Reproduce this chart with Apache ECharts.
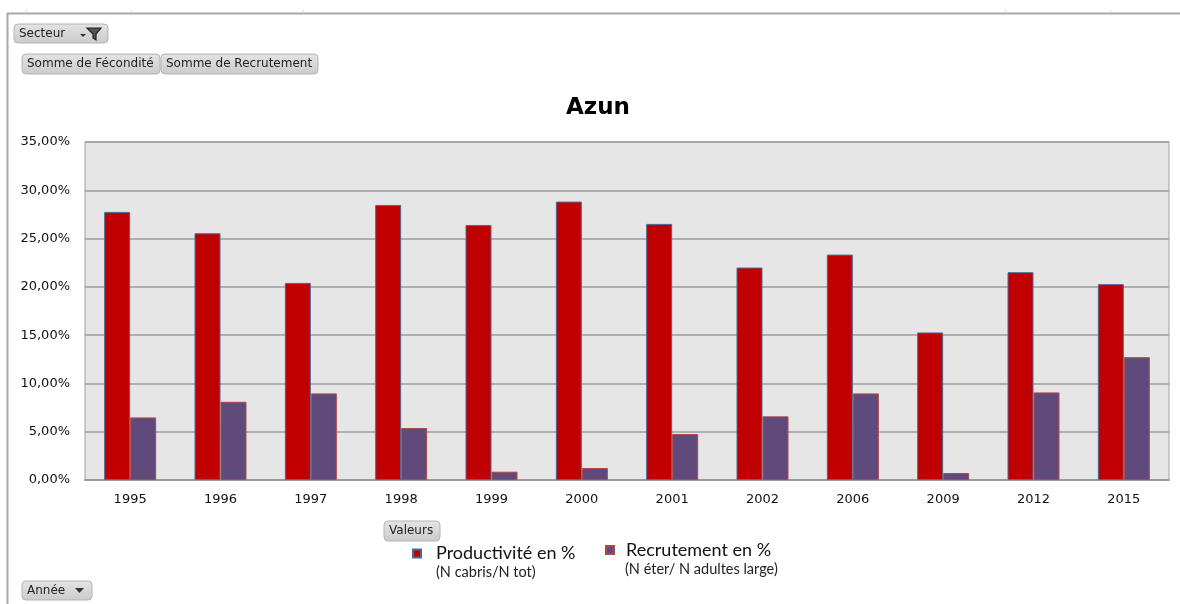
<!DOCTYPE html>
<html>
<head>
<meta charset="utf-8">
<script src="https://cdn.jsdelivr.net/npm/echarts@6/dist/echarts.min.js"></script>
<style>
html,body{margin:0;padding:0;background:#fff;}
#chart{width:1180px;height:604px;}
</style>
</head>
<body>
<div id="chart"></div>
<script>
var categories = ['1995','1996','1997','1998','1999','2000','2001','2002','2006','2009','2012','2015'];
var productivite = [27.76, 25.55, 20.41, 28.48, 26.41, 28.83, 26.52, 22.00, 23.34, 15.28, 21.52, 20.28];
var recrutement = [6.48, 8.10, 8.97, 5.38, 0.86, 1.24, 4.76, 6.59, 8.97, 0.72, 9.07, 12.72];
var seriesNames = ['Productivité en %', 'Recrutement en %'];
var seriesSub = ['(N cabris/N tot)', '(N éter/ N adultes large)'];
var yTicks = {min: 0, max: 35, interval: 5};

var chart = echarts.init(document.getElementById('chart'), null, {renderer: 'canvas'});

function button(x, y, w, h, label, fs) {
  return [{
    type: 'rect', shape: {x: x, y: y, width: w, height: h, r: 4},
    style: {
      fill: new echarts.graphic.LinearGradient(0, 0, 0, 1, [
        {offset: 0, color: '#e4e4e4'}, {offset: 1, color: '#cbcbcb'}]),
      stroke: '#b4b4b4', lineWidth: 1
    }, z: 10
  }, {
    type: 'text', x: x + 5, y: y + h / 2,
    style: {text: label, fill: '#222', font: (fs || 12) + 'px "DejaVu Sans", sans-serif', verticalAlign: 'middle'},
    z: 11
  }];
}

var graphics = [];
// outer frame lines
graphics.push({type: 'line', shape: {x1: 7, y1: 13.5, x2: 1180, y2: 13.5}, style: {stroke: '#a8a8a8', lineWidth: 2}, z: 1});
graphics.push({type: 'line', shape: {x1: 7.5, y1: 13, x2: 7.5, y2: 604}, style: {stroke: '#a8a8a8', lineWidth: 2}, z: 1});
[26, 131, 303, 1005, 1110].forEach(function (x) {
  graphics.push({type: 'line', shape: {x1: x + 0.5, y1: 10, x2: x + 0.5, y2: 13}, style: {stroke: '#d8d8d8', lineWidth: 1}, z: 1});
});
graphics = graphics.concat(button(14, 24, 94, 19, 'Secteur'));
// filter icon on Secteur button
graphics.push({type: 'polygon', shape: {points: [[87, 28], [101, 28], [96, 34], [96, 40], [93, 38], [93, 34]]}, style: {fill: '#555', stroke: '#222', lineWidth: 1.2}, z: 12});
graphics.push({type: 'polygon', shape: {points: [[80, 34], [86, 34], [83, 37]]}, style: {fill: '#333'}, z: 12});
graphics = graphics.concat(button(22, 54, 138, 20, 'Somme de Fécondité'));
graphics = graphics.concat(button(161, 54, 157, 20, 'Somme de Recrutement'));
graphics = graphics.concat(button(384, 521, 56, 20, 'Valeurs'));
graphics = graphics.concat(button(22, 581, 70, 19, 'Année'));
graphics.push({type: 'polygon', shape: {points: [[75, 588], [84, 588], [79.5, 593]]}, style: {fill: '#333'}, z: 12});
// legend sub-labels
graphics.push({type: 'text', x: 436, y: 572, style: {text: seriesSub[0], fill: '#222', font: '14.5px Lato, sans-serif', verticalAlign: 'middle'}, z: 5});
graphics.push({type: 'text', x: 625, y: 569.5, style: {text: seriesSub[1], fill: '#222', font: '14.5px Lato, sans-serif', verticalAlign: 'middle'}, z: 5});

var pctFmt = function (v) { return v.toFixed(2).replace('.', ',') + '%'; };

chart.setOption({
  animation: false,
  backgroundColor: '#ffffff',
  title: {
    text: 'Azun', left: 593, top: 92, textAlign: 'center',
    textStyle: {fontFamily: 'DejaVu Sans', fontWeight: 'bold', fontSize: 23, color: '#000'}
  },
  legend: [{
    data: [seriesNames[0]], left: 407, top: 539.5, icon: 'rect', itemWidth: 8, itemHeight: 8,
    textStyle: {fontFamily: 'Lato', fontSize: 18, color: '#111', padding: [0, 0, 5, 10]}
  }, {
    data: [seriesNames[1]], left: 600, top: 536, icon: 'rect', itemWidth: 8, itemHeight: 8,
    textStyle: {fontFamily: 'Lato', fontSize: 18, color: '#111', padding: [0, 0, 12, 7]}
  }],
  grid: {left: 85, right: 11, top: 142, bottom: 124, show: true, backgroundColor: '#e6e6e6', borderColor: '#a0a0a0', borderWidth: 1},
  xAxis: {
    type: 'category', data: categories,
    axisLine: {lineStyle: {color: '#9a9a9a', width: 2}},
    axisTick: {show: false},
    axisLabel: {color: '#111', fontFamily: 'DejaVu Sans', fontSize: 13, margin: 13}
  },
  yAxis: {
    type: 'value', min: yTicks.min, max: yTicks.max, interval: yTicks.interval,
    axisLine: {show: false}, axisTick: {show: false},
    splitLine: {lineStyle: {color: '#9c9c9c', width: 1.5}},
    axisLabel: {formatter: pctFmt, color: '#111', fontFamily: 'DejaVu Sans', fontSize: 13, margin: 15}
  },
  series: [{
    name: seriesNames[0], type: 'bar', data: productivite, barWidth: 26, barGap: '0%',
    itemStyle: {color: '#c00000', borderColor: '#4a6a9a', borderWidth: 1}
  }, {
    name: seriesNames[1], type: 'bar', data: recrutement, barWidth: 26,
    itemStyle: {color: '#604a7b', borderColor: '#b04848', borderWidth: 1}
  }],
  graphic: graphics
});
</script>
</body>
</html>
